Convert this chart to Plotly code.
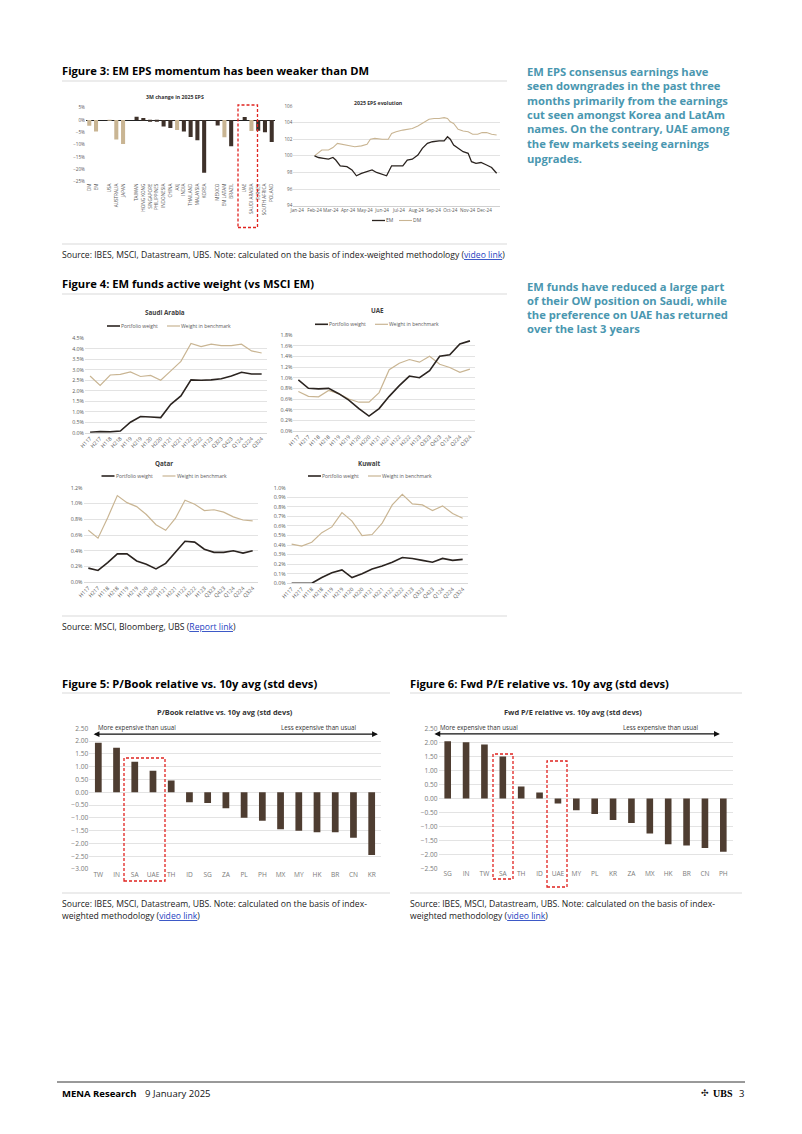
import plotly.graph_objects as go

W, H = 802, 1134
OFF = 8  # the page body margin shifts the figure by this many pixels
FONT = "Open Sans"
DARK = "#2b2420"
TAN = "#c9b593"
BROWN = "#4e3d31"
TEAL = "#4a97b0"
GRID = "#e3e3e3"
TICK = "#595959"

# ---------------- data ----------------
eps_countries = ["DM", "EM", " ", "USA", "AUSTRALIA", "JAPAN", "  ", "TAIWAN", "HONG KONG",
                 "SINGAPORE", "PHILIPPINES", "INDONESIA", "CHINA", "AXJ", "INDIA", "THAILAND",
                 "MALAYSIA", "KOREA", "   ", "MEXICO", "EM LATAM", "BRAZIL", "    ", "UAE",
                 "SAUDI ARABIA", "TURKEY", "SOUTH AFRICA", "POLAND"]
eps_change = [-2.3, -4.6, None, -0.2, -7.9, -9.7, None, 1.3, 0.8, -0.3, -0.5, -2.6, -3.2, -4.0,
              -4.6, -6.9, -8.2, -21.4, None, -2.2, -7.0, -10.6, None, 1.2, -4.4, -4.3, -5.0, -8.9]
eps_is_aggregate = [1, 1, 0, 1, 1, 1, 0, 0, 0, 0, 0, 0, 0, 1, 0, 0, 0, 0, 0, 0, 1, 0, 0, 0, 1, 0, 0, 0]

evo_dates_dm = ["2024-02-01", "2024-02-14", "2024-02-26", "2024-03-05", "2024-03-13", "2024-03-21",
                "2024-04-02", "2024-04-13", "2024-04-25", "2024-05-05", "2024-05-11", "2024-05-19",
                "2024-06-01", "2024-06-12", "2024-06-18", "2024-06-26", "2024-07-08", "2024-07-16",
                "2024-07-25", "2024-08-04", "2024-08-12", "2024-08-18", "2024-08-24", "2024-09-02",
                "2024-09-11", "2024-09-20", "2024-09-26", "2024-10-01", "2024-10-07", "2024-10-15",
                "2024-10-24", "2024-11-02", "2024-11-10", "2024-11-19", "2024-11-27", "2024-12-05",
                "2024-12-14", "2024-12-23"]
evo_dm = [100.0, 100.7, 100.7, 101.0, 101.5, 101.4, 101.3, 101.1, 101.2, 101.4, 102.0, 102.1,
          102.0, 102.0, 102.7, 102.9, 103.1, 103.2, 103.3, 103.6, 103.9, 104.2, 104.4, 104.5,
          104.5, 104.6, 104.5, 104.1, 103.9, 103.2, 103.0, 102.9, 102.6, 102.6, 102.8, 102.8,
          102.6, 102.5]
evo_dates_em = ["2024-02-01", "2024-02-08", "2024-02-17", "2024-02-26", "2024-03-05", "2024-03-10",
                "2024-03-18", "2024-03-30", "2024-04-08", "2024-04-16", "2024-04-25", "2024-05-05",
                "2024-05-14", "2024-05-22", "2024-06-01", "2024-06-09", "2024-06-18", "2024-06-29",
                "2024-07-08", "2024-07-16", "2024-07-25", "2024-08-04", "2024-08-12", "2024-08-21",
                "2024-08-30", "2024-09-11", "2024-09-20", "2024-09-26", "2024-10-01", "2024-10-07",
                "2024-10-15", "2024-10-24", "2024-11-02", "2024-11-08", "2024-11-16", "2024-11-25",
                "2024-12-05", "2024-12-14", "2024-12-23"]
evo_em = [100.0, 99.8, 99.7, 99.6, 99.8, 99.5, 98.8, 98.7, 98.3, 97.6, 97.9, 98.1, 98.3, 98.0,
          97.8, 97.6, 98.8, 98.8, 98.8, 99.5, 99.6, 100.1, 100.9, 101.5, 101.7, 101.8, 101.8,
          102.3, 102.0, 101.3, 100.9, 100.5, 100.3, 99.3, 99.1, 99.2, 98.9, 98.6, 97.9]

periods = ["H117", "H217", "H118", "H218", "H119", "H219", "H120", "H220", "H121", "H221",
           "H122", "H222", "H123", "Q323", "Q423", "Q124", "Q224", "Q324"]
saudi_portfolio = [0.02, 0.05, 0.04, 0.08, 0.50, 0.77, 0.75, 0.72, 1.35, 1.75, 2.52, 2.50, 2.52,
                   2.57, 2.70, 2.88, 2.80, 2.80]
saudi_benchmark = [2.70, 2.25, 2.75, 2.78, 2.90, 2.68, 2.73, 2.50, 2.95, 3.40, 4.25, 4.10, 4.22,
                   4.15, 4.15, 4.22, 3.90, 3.80]
uae_portfolio = [0.96, 0.80, 0.79, 0.80, 0.70, 0.58, 0.42, 0.28, 0.42, 0.65, 0.85, 1.03, 1.00,
                 1.13, 1.40, 1.43, 1.63, 1.69]
uae_benchmark = [0.74, 0.65, 0.64, 0.76, 0.70, 0.60, 0.54, 0.54, 0.72, 1.15, 1.27, 1.34, 1.29,
                 1.40, 1.25, 1.19, 1.10, 1.16]
qatar_portfolio = [0.18, 0.15, 0.25, 0.36, 0.36, 0.27, 0.23, 0.17, 0.24, 0.38, 0.52, 0.51, 0.42,
                   0.38, 0.38, 0.40, 0.37, 0.40]
qatar_benchmark = [0.66, 0.56, 0.82, 1.10, 1.01, 0.96, 0.86, 0.73, 0.66, 0.81, 1.04, 0.99, 0.91,
                   0.92, 0.89, 0.83, 0.79, 0.78]
kuwait_portfolio = [0.0, 0.0, 0.0, 0.06, 0.11, 0.14, 0.06, 0.10, 0.15, 0.18, 0.22, 0.27, 0.26,
                    0.24, 0.22, 0.26, 0.24, 0.25]
kuwait_benchmark = [0.41, 0.39, 0.43, 0.53, 0.59, 0.74, 0.65, 0.50, 0.51, 0.63, 0.82, 0.93, 0.83,
                    0.82, 0.76, 0.81, 0.73, 0.68]

pb_countries = ["TW", "IN", "SA", "UAE", "TH", "ID", "SG", "ZA", "PL", "PH", "MX", "MY", "HK",
                "BR", "CN", "KR"]
pb_values = [1.94, 1.74, 1.19, 0.84, 0.46, -0.39, -0.42, -0.63, -1.00, -1.11, -1.45, -1.50,
             -1.56, -1.56, -1.78, -2.45]
pe_countries = ["SG", "IN", "TW", "SA", "TH", "ID", "UAE", "MY", "PL", "KR", "ZA", "MX", "HK",
                "BR", "CN", "PH"]
pe_values = [2.04, 2.00, 1.92, 1.50, 0.43, 0.21, -0.18, -0.42, -0.55, -0.77, -0.87, -1.25,
             -1.63, -1.67, -1.76, -1.90]


# ---------------- helpers ----------------
def px(x):
    return (x - OFF) / W


def py(y):
    return 1 - (y - OFF) / H


def xdom(a, b):
    return [px(a), px(b)]


def ydom(top, bottom):
    return [py(bottom), py(top)]


annotations = []
shapes = []


def txt(x, y, s, size=8, color="#000000", bold=False, xanchor="left", yanchor="middle", family=FONT):
    if bold:
        s = "<b>" + s + "</b>"
    if xanchor == "left":
        x -= 2
    elif xanchor == "right":
        x += 2
    annotations.append(dict(x=px(x), y=py(y), xref="paper", yref="paper", text=s, showarrow=False,
                            xanchor=xanchor, yanchor=yanchor,
                            font=dict(size=size, color=color, family=family)))


def hline(x0, x1, y, color="#d9d9d9", width=1):
    shapes.append(dict(type="line", xref="paper", yref="paper", x0=px(x0), x1=px(x1),
                       y0=py(y), y1=py(y), line=dict(color=color, width=width)))


def redbox(x0, y0, x1, y1):
    shapes.append(dict(type="rect", xref="paper", yref="paper", x0=px(x0), x1=px(x1),
                       y0=py(y1), y1=py(y0), line=dict(color="#e0231f", width=1.3, dash="3px,2px")))


def legend_item(x, y, color, width, label):
    shapes.append(dict(type="line", xref="paper", yref="paper", x0=px(x), x1=px(x + 13),
                       y0=py(y), y1=py(y), line=dict(color=color, width=width)))
    txt(x + 14, y, label, size=5.0, color=TICK)


fig = go.Figure()

# ---------------- Figure 3 left: bars ----------------
fig.add_trace(go.Bar(x=eps_countries, y=eps_change, xaxis="x", yaxis="y", width=0.6,
                     marker=dict(color=[TAN if a else "#3e312a" for a in eps_is_aggregate]),
                     showlegend=False))
# ---------------- Figure 3 right: lines ----------------
fig.add_trace(go.Scatter(x=evo_dates_dm, y=evo_dm, mode="lines", xaxis="x2", yaxis="y2",
                         line=dict(color=TAN, width=1.1), showlegend=False))
fig.add_trace(go.Scatter(x=evo_dates_em, y=evo_em, mode="lines", xaxis="x2", yaxis="y2",
                         line=dict(color=DARK, width=1.3), showlegend=False))
# ---------------- Figure 4 ----------------
for i, (pf, bm) in enumerate([(saudi_portfolio, saudi_benchmark), (uae_portfolio, uae_benchmark),
                              (qatar_portfolio, qatar_benchmark), (kuwait_portfolio, kuwait_benchmark)]):
    n = str(i + 3)
    fig.add_trace(go.Scatter(x=periods, y=bm, mode="lines", xaxis="x" + n, yaxis="y" + n,
                             line=dict(color=TAN, width=1.2), showlegend=False))
    fig.add_trace(go.Scatter(x=periods, y=pf, mode="lines", xaxis="x" + n, yaxis="y" + n,
                             line=dict(color=DARK, width=1.6), showlegend=False))
# ---------------- Figure 5 / 6 ----------------
fig.add_trace(go.Bar(x=pb_countries, y=pb_values, xaxis="x7", yaxis="y7", width=0.37,
                     marker=dict(color=BROWN), showlegend=False))
fig.add_trace(go.Bar(x=pe_countries, y=pe_values, xaxis="x8", yaxis="y8", width=0.36,
                     marker=dict(color=BROWN), showlegend=False))

tickfont_small = dict(size=4.6, color=TICK, family=FONT)
tickfont_f4 = dict(size=5.3, color=TICK, family=FONT)
tickfont_f5 = dict(size=6.6, color="#7a7a7a", family=FONT)

layout = dict(
    template="none",
    width=W, height=H, margin=dict(l=0, r=0, t=0, b=0, pad=0),
    paper_bgcolor="white", plot_bgcolor="white", bargap=0.4,
    font=dict(family=FONT),
    # fig 3 left
    xaxis=dict(domain=xdom(85.9, 275.1), anchor="y", type="category", tickangle=-90,
               tickfont=tickfont_small, showgrid=False, ticks="", showline=False, zeroline=False,
               range=[-0.5, 27.5], automargin=False),
    yaxis=dict(domain=ydom(107.7, 181.7), anchor="x", range=[-25, 5], dtick=5, ticksuffix="%",
               tickfont=tickfont_small, showgrid=False, zeroline=True, zerolinecolor="#222",
               zerolinewidth=0.8, showline=False, ticks="", automargin=False),
    # fig 3 right
    xaxis2=dict(domain=xdom(293.3, 500), anchor="y2", type="date", range=["2023-12-25", "2024-12-29"],
                dtick="M1", tick0="2024-01-01", tickformat="%b-%y", tickfont=tickfont_small,
                tickangle=0, showgrid=False, ticks="", showline=True, linecolor="#d0d0d0",
                linewidth=0.6, zeroline=False, automargin=False),
    yaxis2=dict(domain=ydom(106, 205.7), anchor="x2", range=[94, 106], dtick=2, ticks="",
                tickfont=tickfont_small, showgrid=True, gridcolor=GRID, gridwidth=0.6,
                zeroline=False, showline=False, automargin=False),
    # fig 5, fig 6
    xaxis7=dict(domain=xdom(89.2, 380.8), anchor="y7", type="category", tickfont=tickfont_f5,
                showgrid=False, ticks="", showline=False, zeroline=False, range=[-0.5, 15.5],
                automargin=False),
    yaxis7=dict(domain=ydom(728.3, 869), anchor="x7", range=[-3, 2.5], dtick=0.5, tickformat=".2f",
                tickfont=tickfont_f5, showgrid=True, gridcolor=GRID, gridwidth=0.8, zeroline=False,
                showline=False, ticks="", automargin=False),
    xaxis8=dict(domain=xdom(438.5, 732.5), anchor="y8", type="category", tickfont=tickfont_f5,
                showgrid=False, ticks="", showline=False, zeroline=False, range=[-0.5, 15.5],
                automargin=False),
    yaxis8=dict(domain=ydom(728.3, 868.7), anchor="x8", range=[-2.5, 2.5], dtick=0.5, tickformat=".2f",
                tickfont=tickfont_f5, showgrid=True, gridcolor=GRID, gridwidth=0.8, zeroline=False,
                showline=False, ticks="", automargin=False),
)

f4 = [  # (n, xdomain, ytop, ybottom, ymax, dtick)
    ("3", (85.0, 266.7), 338.3, 432.7, 4.5, 0.5),
    ("4", (293.3, 475.0), 335.0, 431.0, 1.8, 0.2),
    ("5", (83.5, 257.5), 487.7, 582.3, 1.2, 0.2),
    ("6", (286.6, 467.7), 487.7, 583.3, 1.0, 0.1),
]
for n, (xa, xb), yt, yb, ymax, dt in f4:
    layout["xaxis" + n] = dict(domain=xdom(xa, xb), anchor="y" + n, type="category", tickangle=-45,
                               tickfont=tickfont_f4, showgrid=False, ticks="", showline=True,
                               linecolor="#d9d9d9", linewidth=0.6, zeroline=False,
                               range=[-0.5, 17.5], automargin=False)
    layout["yaxis" + n] = dict(domain=ydom(yt, yb), anchor="x" + n, range=[0, ymax], dtick=dt,
                               tickformat=".1f", ticksuffix="%", tickfont=tickfont_f4, showgrid=True,
                               gridcolor=GRID, gridwidth=0.6, zeroline=False, showline=False,
                               ticks="", automargin=False)

fig.update_layout(**layout)

# ---------------- page text ----------------
txt(62, 70, "Figure 3: EM EPS momentum has been weaker than DM", size=11.2, bold=True)
hline(62, 507, 81)
txt(175, 97.5, "3M change in 2025 EPS", size=5.2, color="#333", bold=True, xanchor="center")
txt(378, 103, "2025 EPS evolution", size=5.2, color="#333", bold=True, xanchor="center")
legend_item(372, 220.5, DARK, 1.3, "EM")
legend_item(399, 220.5, TAN, 1.1, "DM")
redbox(238, 105, 257.5, 227.5)

teal1 = ["EM EPS consensus earnings have", "seen downgrades in the past three",
         "months primarily from the earnings", "cut seen amongst Korea and LatAm",
         "names. On the contrary, UAE among", "the few markets seeing earnings", "upgrades."]
for i, line in enumerate(teal1):
    txt(527, 71 + i * 14.5, line, size=11.2, color=TEAL, bold=True)
teal2 = ["EM funds have reduced a large part", "of their OW position on Saudi, while",
         "the preference on UAE has returned", "over the last 3 years"]
for i, line in enumerate(teal2):
    txt(527, 286 + i * 14.3, line, size=11.2, color=TEAL, bold=True)

hline(62, 507, 244)
link = "<span style='color:#1f3fbf;text-decoration:underline'>video link</span>"
txt(62, 254.5, "Source: IBES, MSCI, Datastream, UBS. Note: calculated on the basis of index-weighted "
    "methodology (" + link + ")", size=8.65, color="#222")

txt(62, 283, "Figure 4: EM funds active weight (vs MSCI EM)", size=11.2, bold=True)
hline(62, 507, 294)

for title, cx, ty in [("Saudi Arabia", 165, 312), ("UAE", 377, 310), ("Qatar", 164, 463),
                      ("Kuwait", 369, 463)]:
    txt(cx, ty, title, size=6.3, color="#404040", bold=True, xanchor="center")
for x1, x2, y in [(107, 167, 326), (315, 375, 324.3), (101.5, 162.5, 476), (308, 368, 476)]:
    legend_item(x1, y, DARK, 1.6, "Portfolio weight")
    legend_item(x2, y, TAN, 1.2, "Weight in benchmark")

hline(62, 507, 616)
link2 = "<span style='color:#1f3fbf;text-decoration:underline'>Report link</span>"
txt(62, 627, "Source: MSCI, Bloomberg, UBS (" + link2 + ")", size=8.65, color="#222")

# figure 5 and 6
txt(62, 683, "Figure 5: P/Book relative vs. 10y avg (std devs)", size=11.2, bold=True)
txt(410, 683, "Figure 6: Fwd P/E relative vs. 10y avg (std devs)", size=11.2, bold=True)
hline(62, 390, 693)
hline(410, 742, 693)
txt(225, 712, "P/Book relative vs. 10y avg (std devs)", size=7.4, color="#333", bold=True,
    xanchor="center")
txt(573, 712, "Fwd P/E relative vs. 10y avg (std devs)", size=7.4, color="#333", bold=True,
    xanchor="center")
txt(98, 727, "More expensive than usual", size=6.2, color="#333")
txt(356, 727, "Less expensive than usual", size=6.2, color="#333", xanchor="right")
txt(440, 727, "More expensive than usual", size=6.2, color="#333")
txt(698, 727, "Less expensive than usual", size=6.2, color="#333", xanchor="right")
annotations.append(dict(x=0.99, y=2.27, xref="x7 domain", yref="y7", ax=0.01, ay=2.27,
                        axref="x7 domain", ayref="y7", text="", showarrow=True, arrowhead=2,
                        arrowside="end+start", arrowsize=0.9, arrowwidth=1.3, arrowcolor="#111"))
annotations.append(dict(x=0.957, y=2.30, xref="x8 domain", yref="y8", ax=-0.019, ay=2.30,
                        axref="x8 domain", ayref="y8", text="", showarrow=True, arrowhead=2,
                        arrowside="end+start", arrowsize=0.9, arrowwidth=1.3, arrowcolor="#111"))
redbox(124, 758, 165, 881)
redbox(493, 754, 513, 879)
redbox(547, 761, 567, 887)

hline(62, 390, 893)
hline(410, 742, 893)
for x0 in (62, 410):
    txt(x0, 903.5, "Source: IBES, MSCI, Datastream, UBS. Note: calculated on the basis of index-",
        size=8.65, color="#222")
    txt(x0, 916, "weighted methodology (" + link + ")", size=8.65, color="#222")

# footer
hline(57, 745, 1082, color="#000000", width=0.8)
txt(62, 1093, "MENA Research", size=9.5, bold=True)
txt(145, 1093, "9 January 2025", size=9.5, color="#111")
txt(733, 1093, "UBS", size=10, bold=True, xanchor="right", family="Liberation Serif")
txt(741, 1093, "3", size=9.5, color="#111", xanchor="center")
txt(709, 1093, "✣", size=9, color="#111", xanchor="right", family="DejaVu Sans")

fig.update_layout(annotations=annotations, shapes=shapes)
fig.write_html("out.html")
